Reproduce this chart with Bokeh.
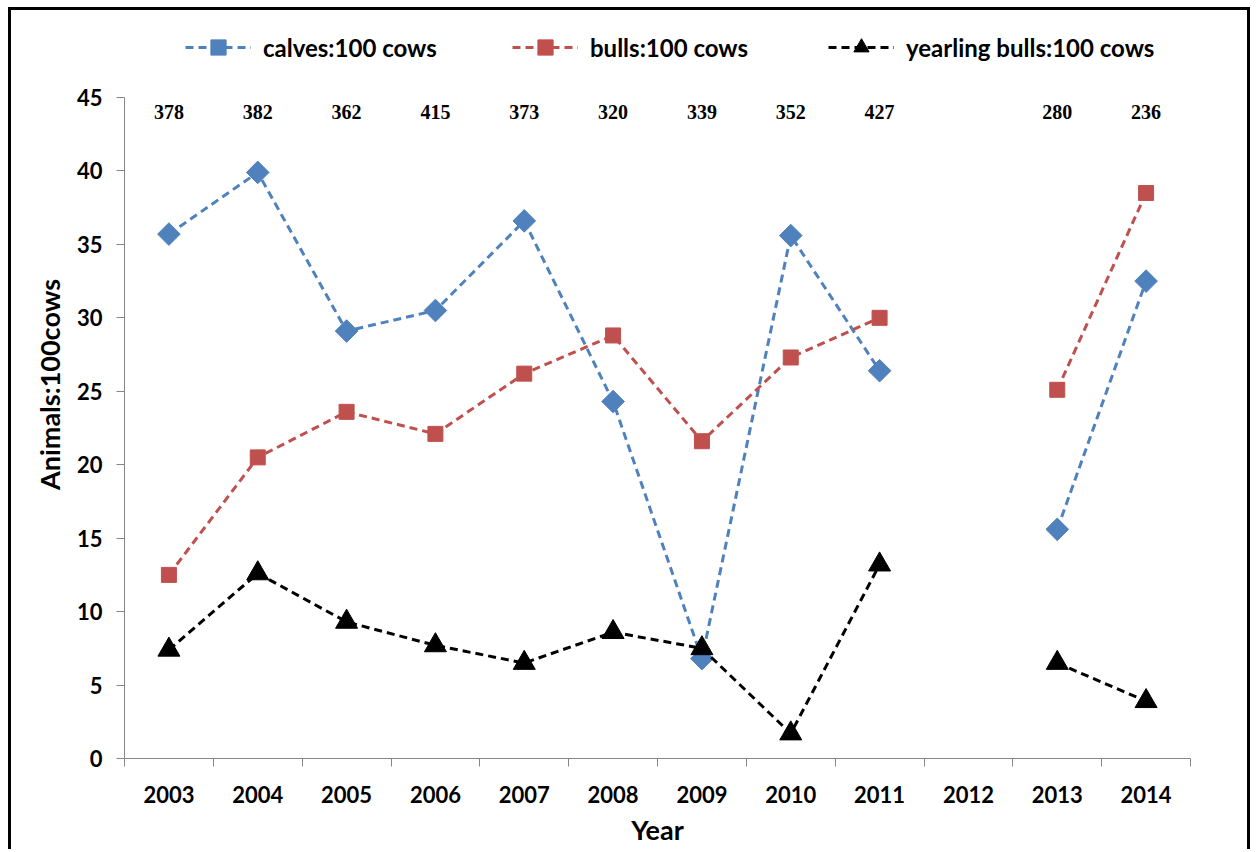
import numpy as np
from bokeh.plotting import figure
from bokeh.models import (Range1d, LinearAxis, FixedTicker, Legend, LegendItem, ColumnDataSource)
from bokeh.core.properties import value
from bokeh.embed import file_html
from bokeh.resources import INLINE

years = ["2003", "2004", "2005", "2006", "2007", "2008", "2009", "2010", "2011", "2012", "2013", "2014"]
calves = [35.7, 39.9, 29.1, 30.5, 36.6, 24.3, 6.8, 35.6, 26.4, np.nan, 15.6, 32.5]
bulls = [12.5, 20.5, 23.6, 22.1, 26.2, 28.8, 21.6, 27.3, 30.0, np.nan, 25.1, 38.5]
yearlings = [7.4, 12.6, 9.3, 7.7, 6.5, 8.6, 7.5, 1.7, 13.2, np.nan, 6.5, 3.9]
counts = ["378", "382", "362", "415", "373", "320", "339", "352", "427", "", "280", "236"]
y_ticks = [0, 5, 10, 15, 20, 25, 30, 35, 40, 45]

FONT = "Lato"
AXIS_GRAY = "#868686"
BLUE = "#4F81BD"
RED = "#C0504D"
BLACK = "#000000"

n = len(years)
idx = list(range(n))  # category index positions

# layout (pixels)
CONTENT_H = 842
BOTTOM = 94
FRAME_H = 661            # height from value 0 to value 45
TOP_SPACE = CONTENT_H - BOTTOM - FRAME_H   # room above the 45 tick, kept inside the frame
y_top = 45 + TOP_SPACE * 45.0 / FRAME_H

p = figure(width=1242, height=CONTENT_H,
           x_range=Range1d(-0.5, n - 0.5),
           y_range=Range1d(0, y_top),
           x_axis_location=None,
           output_backend="svg", toolbar_location=None,
           min_border_left=113, min_border_right=63, min_border_top=0, min_border_bottom=BOTTOM,
           styles={"border-top": "3px solid black", "border-left": "3px solid black",
                   "border-right": "3px solid black", "margin-left": "8px",
                   "margin-top": "7px"})
p.outline_line_color = None
p.grid.visible = False
p.background_fill_color = "white"
p.border_fill_color = "white"

# y axis
ya = p.yaxis[0]
ya.ticker = FixedTicker(ticks=y_ticks)
ya.bounds = (0, 45)
ya.axis_line_color = AXIS_GRAY
ya.major_tick_line_color = AXIS_GRAY
ya.major_tick_out = 8
ya.major_tick_in = 0
ya.minor_tick_line_color = None
ya.major_label_text_font = FONT
ya.major_label_text_font_style = "bold"
ya.major_label_text_font_size = "22px"
ya.major_label_text_color = "black"
ya.major_label_standoff = 14
ya.axis_label = "Animals:100cows"
ya.axis_label_text_font = FONT
ya.axis_label_text_font_style = "bold"
ya.axis_label_text_font_size = "27px"
ya.axis_label_text_color = "black"
ya.axis_label_standoff = 8

# x axis: category labels at centres, boundary ticks as minor ticks
xa = LinearAxis(ticker=FixedTicker(ticks=idx, minor_ticks=[i - 0.5 for i in range(n + 1)]),
                major_label_overrides={i: y for i, y in zip(idx, years)},
                axis_line_color=AXIS_GRAY, major_tick_line_color=None,
                major_tick_out=0, major_tick_in=0,
                minor_tick_line_color=AXIS_GRAY, minor_tick_out=8, minor_tick_in=0,
                major_label_text_font=FONT, major_label_text_font_style="bold",
                major_label_text_font_size="22px", major_label_text_color="black",
                major_label_standoff=19,
                axis_label="Year", axis_label_text_font=FONT,
                axis_label_text_font_style="bold", axis_label_text_font_size="27px",
                axis_label_text_color="black", axis_label_standoff=7)
p.add_layout(xa, "below")

src = ColumnDataSource(dict(x=idx, calves=calves, bulls=bulls, yearlings=yearlings))

DASH = "8 5"
l1 = p.line("x", "calves", source=src, line_color=BLUE, line_width=3, line_dash=DASH)
s1 = p.scatter("x", "calves", source=src, marker="square", angle=np.pi / 4, size=16,
               fill_color=BLUE, line_color=BLUE)
l2 = p.line("x", "bulls", source=src, line_color=RED, line_width=3, line_dash=DASH)
s2 = p.scatter("x", "bulls", source=src, marker="square", size=15,
               fill_color=RED, line_color=RED)
l3 = p.line("x", "yearlings", source=src, line_color=BLACK, line_width=3, line_dash=DASH)
s3 = p.scatter("x", "yearlings", source=src, marker="triangle", size=22,
               fill_color=BLACK, line_color=BLACK)

# sample size annotations
cx = [i for i, c in zip(idx, counts) if c]
ct = [c for c in counts if c]
p.text(x=cx, y=[44] * len(cx), text=ct, text_font=value("Liberation Serif"),
       text_font_style="bold", text_font_size="20px", text_align="center",
       text_baseline="middle", text_color="black")

labels = ["calves:100 cows", "bulls:100 cows", "yearling bulls:100 cows"]
rends = [[l1, s1], [l2, s2], [l3, s3]]
xs = [61, 388, 704]
for lab, rr, lx in zip(labels, rends, xs):
    leg = Legend(items=[LegendItem(label=lab, renderers=rr)], location=(lx, 692),
                 orientation="horizontal", glyph_width=66, glyph_height=38,
                 label_standoff=12, padding=0, margin=0, border_line_color=None,
                 background_fill_alpha=0, label_text_font=FONT, label_text_font_style="bold",
                 label_text_font_size="24px", label_text_color="black")
    p.add_layout(leg, "center")

open("out.html", "w").write(file_html(p, INLINE))
